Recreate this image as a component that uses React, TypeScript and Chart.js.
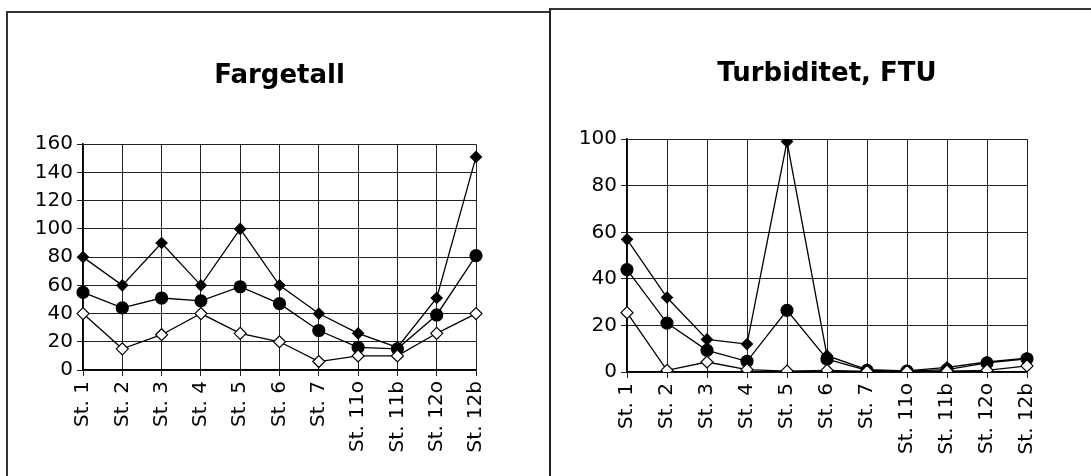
import React, { useEffect, useRef } from "react";
import { Chart, registerables } from "chart.js";

Chart.register(...registerables);

const stations = ["St. 1", "St. 2", "St. 3", "St. 4", "St. 5", "St. 6", "St. 7", "St. 11o", "St. 11b", "St. 12o", "St. 12b"];

const fargeMin = [40, 15, 25, 40, 26, 20, 6, 10, 10, 26, 40];
const fargeMean = [55, 44, 51, 49, 59, 47, 28, 16, 15, 39, 81];
const fargeMax = [80, 60, 90, 60, 100, 60, 40, 26, 16, 51, 151];

const turbMin = [25.5, 0.7, 4.3, 1, 0.4, 0.7, 0.3, 0.3, 0.4, 0.7, 2.6];
const turbMean = [44, 21, 9.3, 4.6, 26.5, 5.5, 0.7, 0.4, 1, 3.9, 5.7];
const turbMax = [57, 32, 14, 12, 99, 7, 1, 0.5, 2, 4.3, 6];

const FONT = "'DejaVu Sans', sans-serif";

type Spec = {
  title: string;
  min: number[];
  mean: number[];
  max: number[];
  yMax: number;
  areaLeft: number;
  padRight: number;
  xHeight: number;
  titleTop: number;
  titleBottom: number;
};

function LineChart({ spec, style }: { spec: Spec; style: React.CSSProperties }) {
  const ref = useRef<HTMLCanvasElement | null>(null);
  useEffect(() => {
    if (!ref.current) return;
    const lineStyle = { borderColor: "#000", borderWidth: 1.3, tension: 0, pointBorderColor: "#000", pointBorderWidth: 1.2 };
    const chart = new Chart(ref.current, {
      type: "line",
      data: {
        labels: stations,
        datasets: [
          { label: "Min", data: spec.min, ...lineStyle, pointStyle: "rectRot", pointRadius: 6, pointBackgroundColor: "#fff" },
          { label: "Middel", data: spec.mean, ...lineStyle, pointStyle: "circle", pointRadius: 6, pointBackgroundColor: "#000" },
          { label: "Maks", data: spec.max, ...lineStyle, pointStyle: "rectRot", pointRadius: 5.5, pointBackgroundColor: "#000" },
        ],
      },
      options: {
        animation: false,
        responsive: false,
        maintainAspectRatio: false,
        layout: { padding: { left: 0, right: spec.padRight, top: 0, bottom: 0 } },
        plugins: {
          legend: { display: false },
          tooltip: { enabled: false },
          title: {
            display: true,
            fullSize: false,
            text: spec.title,
            color: "#000",
            font: { family: FONT, size: 26, weight: "bold", lineHeight: 1.2 },
            padding: { top: spec.titleTop, bottom: spec.titleBottom },
          },
        },
        scales: {
          x: {
            type: "category",
            offset: false,
            grid: { display: true, color: "#222", lineWidth: 1, tickLength: 6, drawTicks: true, offset: false },
            border: { display: true, color: "#000", width: 1.5 },
            ticks: {
              autoSkip: false,
              minRotation: 90,
              maxRotation: 90,
              padding: 5,
              color: "#000",
              font: { family: FONT, size: 20 },
            },
            afterFit: (axis: any) => {
              axis.height = spec.xHeight;
            },
          },
          y: {
            min: 0,
            max: spec.yMax,
            grid: { display: true, color: "#222", lineWidth: 1, tickLength: 6, drawTicks: true },
            border: { display: true, color: "#000", width: 1.5 },
            ticks: {
              stepSize: 20,
              padding: 4,
              color: "#000",
              font: { family: FONT, size: 20 },
            },
            afterFit: (axis: any) => {
              axis.width = spec.areaLeft;
            },
          },
        },
      },
    });
    return () => chart.destroy();
  }, [spec]);
  const w = style.width as number;
  const h = style.height as number;
  return <canvas ref={ref} width={w} height={h} style={{ position: "absolute", ...style }} />;
}

const leftSpec: Spec = {
  title: "Fargetall",
  min: fargeMin,
  mean: fargeMean,
  max: fargeMax,
  yMax: 160,
  areaLeft: 75,
  padRight: 72,
  xHeight: 106,
  titleTop: 48,
  titleBottom: 52,
};

const rightSpec: Spec = {
  title: "Turbiditet, FTU",
  min: turbMin,
  mean: turbMean,
  max: turbMax,
  yMax: 100,
  areaLeft: 75,
  padRight: 64,
  xHeight: 104,
  titleTop: 49,
  titleBottom: 49,
};

export default function App() {
  return (
    <div style={{ position: "absolute", left: 0, top: 0, width: 1091, height: 476, overflow: "hidden", background: "#fff" }}>
      <div style={{ position: "absolute", left: 6, top: 11, width: 544, height: 480, borderLeft: "2px solid #333", borderTop: "2px solid #333", boxSizing: "border-box" }} />
      <div style={{ position: "absolute", left: 549, top: 8, width: 560, height: 480, borderLeft: "2px solid #222", borderTop: "2px solid #333", boxSizing: "border-box", background: "transparent" }} />
      <LineChart spec={leftSpec} style={{ left: 8, top: 13, width: 540, height: 463 }} />
      <LineChart spec={rightSpec} style={{ left: 552, top: 10, width: 539, height: 466 }} />
    </div>
  );
}
